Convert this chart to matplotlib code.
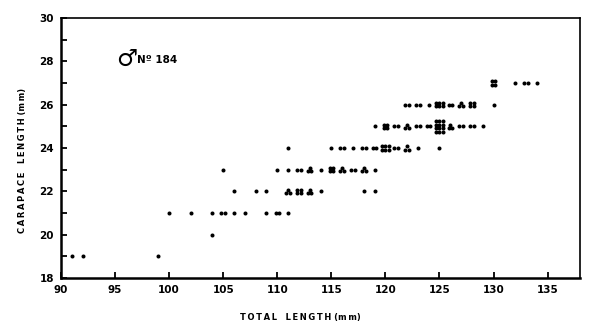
import numpy as np
import matplotlib
matplotlib.use('Agg')
import matplotlib.pyplot as plt
from matplotlib.transforms import ScaledTranslation

# total length (mm), carapace length (mm), number of specimens at that point
total_len = [91, 92, 99,
             104,
             100, 102, 104, 105, 106, 107, 109, 110, 111,
             106, 108, 109, 111, 112, 113, 114, 118, 119,
             105, 110, 111, 112, 113, 114, 115, 116, 117, 118, 119,
             111, 115, 116, 117, 118, 119, 120, 121, 122, 123, 125,
             119, 120, 121, 122, 123, 124, 125, 126, 127, 128, 129,
             122, 123, 124, 125, 126, 127, 128, 130,
             130, 132, 133, 134]
carapace_len = [19, 19, 19,
                20,
                21, 21, 21, 21, 21, 21, 21, 21, 21,
                22, 22, 22, 22, 22, 22, 22, 22, 22,
                23, 23, 23, 23, 23, 23, 23, 23, 23, 23, 23,
                24, 24, 24, 24, 24, 24, 24, 24, 24, 24, 24,
                25, 25, 25, 25, 25, 25, 25, 25, 25, 25, 25,
                26, 26, 26, 26, 26, 26, 26, 26,
                27, 27, 27, 27]
n_spec = [1, 1, 1,
          1,
          1, 1, 1, 2, 1, 1, 1, 2, 1,
          1, 1, 1, 3, 4, 3, 1, 1, 1,
          1, 1, 1, 2, 3, 1, 4, 3, 2, 3, 1,
          1, 1, 2, 1, 2, 2, 6, 2, 3, 1, 1,
          1, 4, 2, 3, 2, 2, 12, 3, 2, 2, 1,
          2, 2, 1, 6, 2, 3, 4, 1,
          4, 1, 2, 1]

x_ticks = [90, 95, 100, 105, 110, 115, 120, 125, 130, 135]
x_labels = ['90', '95', '100', '105', '110', '115', '120', '125', '130', '135']
y_ticks = [18, 20, 22, 24, 26, 28, 30]


def spaced(s):
    return '\u2009'.join(s)


def cluster(n):
    # little dot pattern (in points) for stacked specimens
    sp = 2.5
    if n == 1:
        return [(0, 0)]
    if n == 2:
        return [(-sp / 2, 0), (sp / 2, 0)]
    if n == 3:
        return [(-sp / 2, -sp / 2), (sp / 2, -sp / 2), (0, sp / 2)]
    if n == 4:
        return [(-sp / 2, -sp / 2), (sp / 2, -sp / 2), (-sp / 2, sp / 2), (sp / 2, sp / 2)]
    rows = int(np.ceil(n / 3))
    pts = []
    for i in range(n):
        r, c = divmod(i, 3)
        pts.append(((c - 1) * sp, (r - (rows - 1) / 2) * sp))
    return pts


fig = plt.figure(figsize=(6, 3.34), dpi=100)
ax = fig.add_axes([0.1017, 0.1677, 0.865, 0.778])

for x, y, n in zip(total_len, carapace_len, n_spec):
    for dx, dy in cluster(n):
        off = ScaledTranslation(dx / 72, dy / 72, fig.dpi_scale_trans)
        ax.plot([x], [y], 'o', color='black', ms=2.9, mew=0,
                transform=ax.transData + off, clip_on=False)

ax.set_xlim(90, 138)
ax.set_ylim(18, 30)
ax.set_xticks(x_ticks)
ax.set_xticklabels(x_labels)
ax.set_yticks(y_ticks)
ax.set_yticks(range(19, 30, 2), minor=True)
ax.tick_params(axis='both', which='both', direction='in', length=4, width=1.3,
               labelsize=7.5, pad=5, top=False, right=False)
for lab in ax.get_xticklabels() + ax.get_yticklabels():
    lab.set_fontweight('bold')

for side in ['left', 'bottom']:
    ax.spines[side].set_linewidth(1.8)
for side in ['top', 'right']:
    ax.spines[side].set_linewidth(1.2)

fig.text(0.5, 0.048, spaced('TOTAL') + '   ' + spaced('LENGTH') + ' (' + spaced('mm') + ')',
         ha='center', va='center', fontsize=6, fontweight='bold')
fig.text(0.037, 0.52, spaced('CARAPACE') + '   ' + spaced('LENGTH') + ' (' + spaced('mm') + ')',
         ha='center', va='center', rotation=90, fontsize=6, fontweight='bold')

ax.text(95.1, 28.1, '\u2642', fontsize=17, ha='left', va='center')
ax.text(97.0, 28.05, 'N\u00ba 184', fontsize=7.5, ha='left', va='center', fontweight='bold')

fig.savefig('out.png', dpi=100)
